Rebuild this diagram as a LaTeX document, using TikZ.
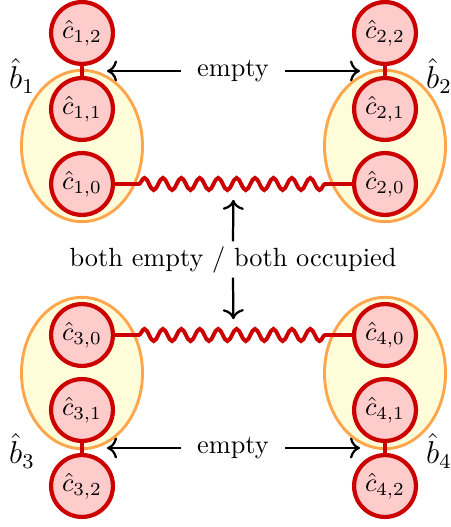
\documentclass[tikz,border=0pt]{standalone}
\usepackage{amsmath,amssymb}
\usepackage{xcolor}
\usepackage{tikz}
\usetikzlibrary{arrows.meta,positioning,shapes.geometric,calc,decorations.pathmorphing}

\begin{document}
\begin{tikzpicture}[x=0.38pt,y=-0.38pt]
  \tikzstyle{site}=[circle,draw=red!80!black,fill=red!20,line width=1.6pt,minimum size=23.5pt,inner sep=0pt]
  \tikzstyle{bond}=[ellipse,draw=orange!70,fill=yellow!15,line width=1.1pt,minimum width=46pt,minimum height=57.5pt]
  \tikzstyle{link}=[draw=red!80!black,line width=1.5pt]
  \tikzstyle{wave}=[link,decorate,decoration={snake,amplitude=2.3pt,segment length=7pt,pre length=9pt,post length=9pt}]
  \tikzstyle{pointer}=[-{To[scale=1.1]},line width=0.85pt]
  \useasboundingbox (0,0) rectangle (450,527);
  \foreach \i/\x/\y/\s in {1/82/146/1,2/385/146/1,3/82/373/-1,4/385/373/-1} {
    \node[bond] (b\i) at (\x,\y) {};
    \node[site] (c\i0) at (\x,\y+38*\s) {$\hat{c}_{\i,0}$};
    \node[site] (c\i1) at (\x,\y-37*\s) {$\hat{c}_{\i,1}$};
    \node[site] (c\i2) at (\x,\y-113*\s) {$\hat{c}_{\i,2}$};
    \draw[link] (c\i2) -- (c\i1);
  }
  \node (l1) at (22,76) {\large $\hat{b}_1$};
  \node (l2) at (439,76) {\large $\hat{b}_2$};
  \node (l3) at (22,451) {\large $\hat{b}_3$};
  \node (l4) at (439,451) {\large $\hat{b}_4$};
  \draw[wave] (c10) -- (c20);
  \draw[wave] (c30) -- (c40);
  \node[inner xsep=6pt] (e1) at (233,71) {empty};
  \node[inner xsep=6pt] (e2) at (233,448) {empty};
  \foreach \e/\a/\b in {e1/1/2,e2/3/4} {
    \draw[pointer,shorten >=9.5pt] (\e.west) -- ($(c\a2)!0.5!(c\a1)$);
    \draw[pointer,shorten >=9.5pt] (\e.east) -- ($(c\b2)!0.5!(c\b1)$);
  }
  \node[inner ysep=1.7pt] (both) at (233,259.5) {both empty / both occupied};
  \draw[pointer,shorten >=6pt] (both.north) -- ($(c10)!0.5!(c20)$);
  \draw[pointer,shorten >=6pt] (both.south) -- ($(c30)!0.5!(c40)$);
\end{tikzpicture}
\end{document}
